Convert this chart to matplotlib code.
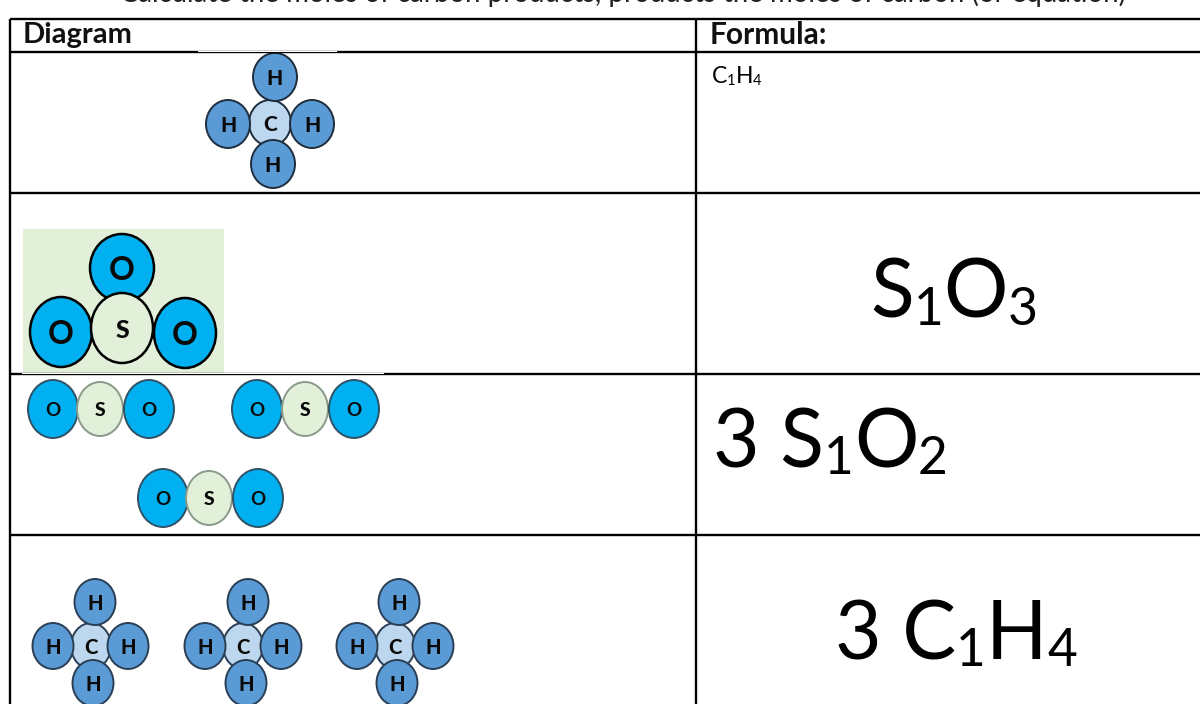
import matplotlib

matplotlib.use("Agg")
import matplotlib.pyplot as plt
from matplotlib.patches import Ellipse, Rectangle

plt.rcParams["font.family"] = ["Lato", "DejaVu Sans"]

header_left = "Diagram"
header_right = "Formula:"
clipped_line = "Calculate the moles of carbon products, products the moles of carbon (or equation)"

# each formula: (text, is_subscript) runs
methane_small = [("C", False), ("1", True), ("H", False), ("4", True)]
sulfur_trioxide = [("S", False), ("1", True), ("O", False), ("3", True)]
sulfur_dioxide = [("3 S", False), ("1", True), ("O", False), ("2", True)]
methane_three = [("3 C", False), ("1", True), ("H", False), ("4", True)]

row_lines = [19, 52, 193, 374, 535]
col_lines = [10, 696]

BLUE_H = "#5b9bd5"
PALE_C = "#bdd7ee"
BLUE_O = "#00b0f0"
PALE_S = "#e2efd9"

# atoms: label, x, y, rx, ry  (drawn in this order)
methane_1 = [
    ("C", 270, 123, 21, 23), ("H", 275, 77, 22, 24), ("H", 228, 124, 22, 24),
    ("H", 312, 124, 22, 24), ("H", 273, 164, 22, 24),
]
so3 = [
    ("O", 122, 268, 32, 34), ("O", 61, 332, 31, 35),
    ("O", 185, 333, 31, 35), ("S", 122, 328, 31, 35),
]
so2_molecules = [
    [("O", 53, 409, 25, 29), ("S", 100, 409, 23, 27), ("O", 149, 409, 25, 29)],
    [("O", 257, 409, 25, 29), ("S", 305, 409, 23, 27), ("O", 354, 409, 25, 29)],
    [("O", 163, 498, 25, 29), ("S", 209, 498, 23, 27), ("O", 258, 498, 25, 29)],
]
methane_row = [
    [("C", 91, 646, 20, 23), ("H", 95, 602, 20.5, 23), ("H", 53, 646, 20.5, 23),
     ("H", 128, 646, 20.5, 23), ("H", 93, 683, 20.5, 23)],
    [("C", 243, 646, 20, 23), ("H", 248, 602, 20.5, 23), ("H", 205, 646, 20.5, 23),
     ("H", 281, 646, 20.5, 23), ("H", 246, 683, 20.5, 23)],
    [("C", 395, 646, 20, 23), ("H", 399, 602, 20.5, 23), ("H", 357, 646, 20.5, 23),
     ("H", 433, 646, 20.5, 23), ("H", 397, 683, 20.5, 23)],
]

ATOM_COLORS = {"H": BLUE_H, "C": PALE_C, "O": BLUE_O, "S": PALE_S}


def draw_atoms(ax, atoms, edge, size, lw=1.4, s_edge=None, s_size=None):
    for label, x, y, rx, ry in atoms:
        ec = s_edge if (label == "S" and s_edge) else edge
        ax.add_patch(Ellipse((x, y), 2 * rx, 2 * ry, fc=ATOM_COLORS[label], ec=ec, lw=lw))
        fs = s_size if (label == "S" and s_size) else size
        weight = "bold" if label == "O" else "black"
        ax.text(x, y, label, fontsize=fs, fontweight=weight, color="#0a0a0a",
                ha="center", va="center_baseline")


def draw_formula(ax, renderer, x, baseline, runs, size, gap=0.0):
    for text, is_sub in runs:
        fs = size * 0.64 if is_sub else size
        y = baseline + (size * 0.125 if is_sub else 0)
        t = ax.text(x, y, text, fontsize=fs, color="black", ha="left", va="baseline")
        x = t.get_window_extent(renderer).x1 + size * gap


fig, ax = plt.subplots(figsize=(12, 7.04), dpi=100)
fig.subplots_adjust(0, 0, 1, 1)
ax.set_xlim(0, 1200)
ax.set_ylim(704, 0)
ax.axis("off")
renderer = fig.canvas.get_renderer()

ax.text(120, 2, clipped_line, fontsize=19.9, color="#222222", ha="left", va="baseline")

# table rules
for y in row_lines:
    ax.plot([10, 1200], [y, y], color="black", lw=1.7, solid_capstyle="butt")
for x in col_lines:
    ax.plot([x, x], [row_lines[0], 704], color="black", lw=1.7, solid_capstyle="butt")

# pasted pictures nibble the rules
ax.add_patch(Rectangle((198, 51.3), 139, 1.0, fc="white", ec="none", zorder=3))
ax.add_patch(Rectangle((22, 373.2), 362, 1.0, fc="white", ec="none", zorder=3))

ax.text(23, 32, header_left, fontsize=21, fontweight="bold", color="#111111", va="center_baseline")
ax.text(710, 32, header_right, fontsize=21.5, fontweight="bold", color="#111111", va="center_baseline")

draw_atoms(ax, methane_1, "#1f2d3d", 15)

ax.add_patch(Rectangle((23, 229), 201, 144, fc=PALE_S, ec="none"))
draw_atoms(ax, so3, "black", 23, lw=1.8, s_size=18)

for mol in so2_molecules:
    draw_atoms(ax, mol, "#2f5266", 13.5, s_edge="#8a9a8a", s_size=14)
for mol in methane_row:
    draw_atoms(ax, mol, "#2a3f55", 14.5)

draw_formula(ax, renderer, 712, 83, methane_small, 16.5)
draw_formula(ax, renderer, 870, 318, sulfur_trioxide, 58)
draw_formula(ax, renderer, 713, 467, sulfur_dioxide, 58)
draw_formula(ax, renderer, 835, 659, methane_three, 58)

fig.savefig("out.png", dpi=100)
